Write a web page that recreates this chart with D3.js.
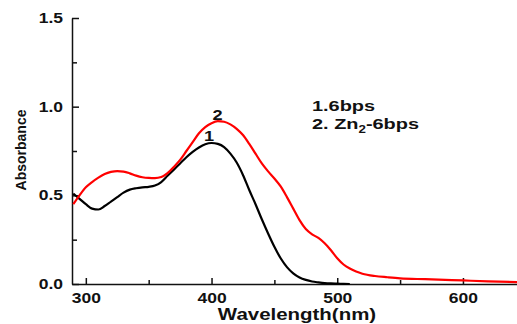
<!DOCTYPE html>
<html>
<head>
<meta charset="utf-8">
<script src="https://cdn.jsdelivr.net/npm/d3@7"></script>
<style>
  body { margin: 0; background: #fff; }
  svg { display: block; font-family: "Liberation Sans", Arial, sans-serif; }
</style>
</head>
<body>
<div id="chart"></div>
<script>
// spectrum 1 : 6bps
var wl1 = [290, 295, 300, 305, 310, 315, 320, 325, 330, 335, 340, 345, 350, 355, 360, 365, 370, 375, 380, 385,
  390, 395, 400, 405, 410, 415, 420, 425, 430, 435, 440, 445, 450, 455, 460, 465, 470, 475, 480, 485,
  490, 495, 500, 505, 510];
var abs1 = [0.51, 0.48, 0.45, 0.425, 0.42, 0.44, 0.465, 0.49, 0.515, 0.532, 0.54, 0.545, 0.548, 0.555, 0.575, 0.61, 0.645, 0.68, 0.715, 0.745,
  0.77, 0.788, 0.795, 0.79, 0.772, 0.735, 0.685, 0.615, 0.53, 0.45, 0.365, 0.285, 0.21, 0.145, 0.095, 0.06, 0.037, 0.023, 0.014, 0.009,
  0.005, 0.003, 0.002, 0.001, 0.0];

// spectrum 2 : Zn2-6bps
var wl2 = [290, 295, 300, 305, 310, 315, 320, 325, 330, 335, 340, 345, 350, 355, 360, 365, 370, 375, 380, 385,
  390, 395, 400, 405, 410, 415, 420, 425, 430, 435, 440, 445, 450, 455, 460, 465, 470, 475, 480, 485,
  490, 495, 500, 505, 510, 515, 520, 530, 540, 550, 570, 600, 620, 645];
var abs2 = [0.45, 0.50, 0.545, 0.575, 0.60, 0.62, 0.632, 0.637, 0.634, 0.624, 0.611, 0.602, 0.598, 0.597, 0.603, 0.625, 0.66, 0.70, 0.75, 0.80,
  0.85, 0.885, 0.907, 0.918, 0.915, 0.9, 0.875, 0.84, 0.79, 0.735, 0.68, 0.635, 0.595, 0.55, 0.49, 0.425, 0.36, 0.31, 0.28, 0.26,
  0.23, 0.19, 0.145, 0.11, 0.087, 0.07, 0.058, 0.045, 0.038, 0.032, 0.027, 0.02, 0.015, 0.01];

var xMajor = [300, 400, 500, 600];
var xMinor = [350, 450, 550];
var yMajor = [0, 0.5, 1.0, 1.5];
var yMinor = [0.25, 0.75, 1.25];
var legendLines = ["1.6bps", "2. Zn"];

var W = 517, H = 324;
var sx = 1.25; // tick labels are drawn a bit wide

var svg = d3.select("#chart").append("svg").attr("width", W).attr("height", H);

var x = d3.scaleLinear().domain([289, 643]).range([72, 517]);
var y = d3.scaleLinear().domain([0, 1.5]).range([284, 18]);

/* ------- AXES -------*/
var gx = svg.append("g").attr("transform", "translate(0," + y(0) + ")");
gx.call(d3.axisBottom(x).tickValues(xMajor).tickSize(-6).tickSizeOuter(0).tickPadding(9).tickFormat(d3.format("d")));
gx.append("g").call(d3.axisBottom(x).tickValues(xMinor).tickSize(-4).tickSizeOuter(0).tickFormat(""))
  .select(".domain").remove();

var gy = svg.append("g").attr("transform", "translate(" + x(289) + ",0)");
gy.call(d3.axisLeft(y).tickValues(yMajor).tickSize(-7).tickSizeOuter(0).tickPadding(9).tickFormat(d3.format(".1f")));
gy.append("g").call(d3.axisLeft(y).tickValues(yMinor).tickSize(-5).tickSizeOuter(0).tickFormat(""))
  .select(".domain").remove();

svg.selectAll(".domain, .tick line").attr("stroke", "#111").attr("stroke-width", 1.5);
svg.selectAll(".tick text")
  .attr("fill", "#111")
  .style("font-size", "14px")
  .style("font-weight", "bold");
gy.selectAll(".tick text").attr("x", -9 / sx).attr("transform", "scale(" + sx + ",1)");
gx.selectAll(".tick text").attr("transform", "scale(" + sx + ",1)");

/* ------- AXIS TITLES -------*/
svg.append("text")
  .attr("transform", "translate(297,320) scale(1.24,1)")
  .attr("text-anchor", "middle")
  .style("font-size", "16.5px").style("font-weight", "bold")
  .attr("fill", "#111")
  .text("Wavelength(nm)");

svg.append("text")
  .attr("transform", "translate(26,150) rotate(-90)")
  .attr("text-anchor", "middle")
  .style("font-size", "14px").style("font-weight", "bold")
  .attr("fill", "#111")
  .text("Absorbance");

/* ------- CURVES -------*/
var line = d3.line()
  .x(function (d) { return x(d[0]); })
  .y(function (d) { return y(d[1]); })
  .curve(d3.curveMonotoneX);

svg.append("path")
  .datum(d3.zip(wl1, abs1))
  .attr("fill", "none").attr("stroke", "#000").attr("stroke-width", 2.2)
  .attr("d", line);

svg.append("path")
  .datum(d3.zip(wl2, abs2))
  .attr("fill", "none").attr("stroke", "#ff0000").attr("stroke-width", 2.2)
  .attr("d", line);

/* ------- LABELS -------*/
function label(txt, wl, a) {
  svg.append("text")
    .attr("transform", "translate(" + x(wl) + "," + y(a) + ") scale(1.3,1)")
    .attr("text-anchor", "middle")
    .style("font-size", "14px").style("font-weight", "bold")
    .attr("fill", "#111")
    .text(txt);
}
label("1", 398, 0.808);
label("2", 404.8, 0.925);

var leg = svg.append("g").attr("transform", "translate(312,0) scale(1.33,1)")
  .style("font-size", "15px").style("font-weight", "bold").attr("fill", "#111");
leg.append("text").attr("y", 110.7).text(legendLines[0]);
var t2 = leg.append("text").attr("y", 129).text(legendLines[1]);
t2.append("tspan").attr("dy", 4).style("font-size", "10px").text("2");
t2.append("tspan").attr("dy", -4).text("-6bps");
</script>
</body>
</html>
